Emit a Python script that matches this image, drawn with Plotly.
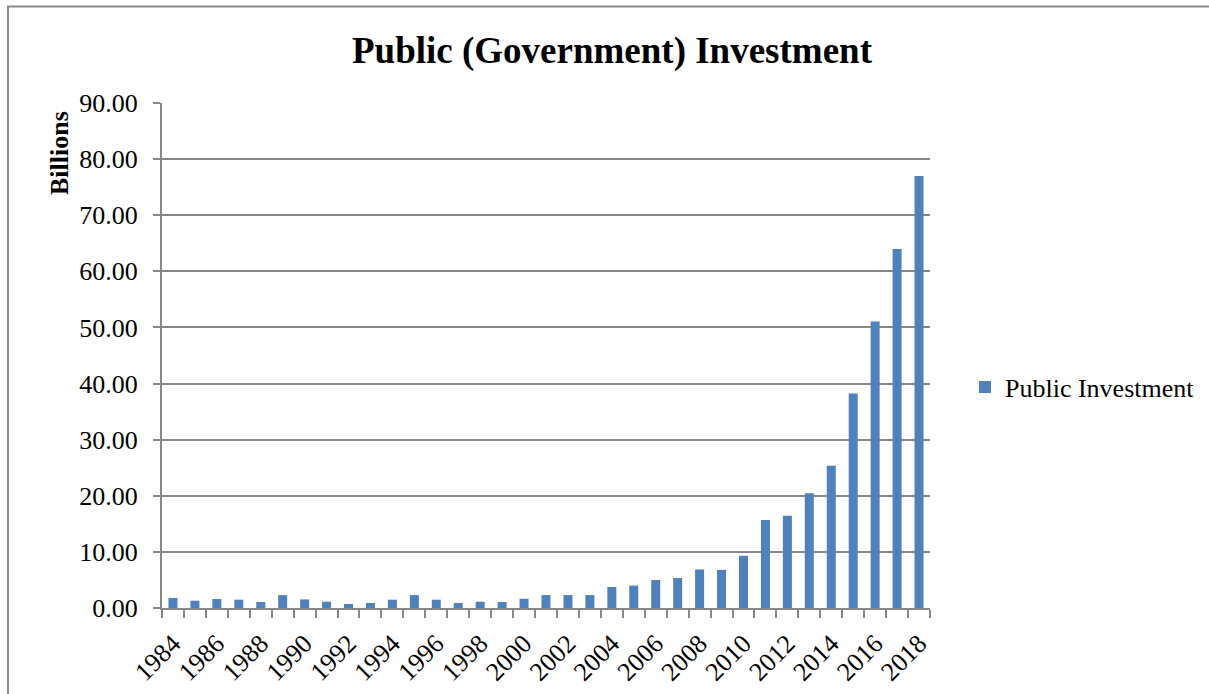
import plotly.graph_objects as go

# Public (government) investment, billions, 1984-2018
years = list(range(1984, 2019))
investment = [
    1.78, 1.30, 1.60, 1.48, 1.07, 2.30, 1.53, 1.12, 0.71, 0.89,
    1.48, 2.30, 1.48, 0.89, 1.12, 1.07, 1.65, 2.30, 2.30, 2.30,
    3.74, 4.00, 4.98, 5.34, 6.87, 6.80, 9.30, 15.70, 16.46, 20.44,
    25.35, 38.22, 51.08, 64.00, 76.98,
]
label_years = [y for y in years if y % 2 == 0]
series_name = "Public Investment"
chart_title = "Public (Government) Investment"
y_title = "Billions"

W, H = 1209, 694
L, R, T, B = 162, 279, 103, 86
plot_w = W - L - R
plot_h = H - T - B

FONT = "Liberation Serif, Times New Roman, serif"
GRID = "#878787"
BAR = "#4F81BD"


def px_x(px):
    return (px - L) / plot_w


def px_y(py):
    return (H - B - py) / plot_h


fig = go.Figure(
    go.Bar(
        x=years,
        y=investment,
        name=series_name,
        marker=dict(color=BAR, line=dict(width=0)),
        showlegend=True,
    )
)

fig.update_layout(
    width=W,
    height=H,
    margin=dict(l=L, r=R, t=T, b=B, autoexpand=False),
    paper_bgcolor="white",
    plot_bgcolor="white",
    bargap=0.59,
    font=dict(family=FONT, size=26, color="black"),
    title=dict(
        text=f"<b>{chart_title}</b>",
        x=612 / W,
        xref="container",
        xanchor="center",
        y=1 - 50 / H,
        yref="container",
        yanchor="middle",
        font=dict(family=FONT, size=37, color="black"),
    ),
    showlegend=True,
    legend=dict(
        x=px_x(965),
        xanchor="left",
        y=px_y(387),
        yanchor="middle",
        font=dict(family=FONT, size=26, color="black"),
        bgcolor="rgba(0,0,0,0)",
        itemwidth=30,
    ),
)

fig.update_xaxes(
    range=[years[0] - 0.5, years[-1] + 0.5],
    tickmode="array",
    tickvals=label_years,
    ticktext=[str(y) for y in label_years],
    ticks="",
    tickangle=-45,
    ticklabelstandoff=8,
    tickfont=dict(family=FONT, size=26, color="black"),
    showgrid=False,
    showline=True,
    linecolor=GRID,
    linewidth=2,
    zeroline=False,
    minor=dict(
        tickmode="array",
        tickvals=[y - 0.5 for y in years] + [years[-1] + 0.5],
        ticks="outside",
        ticklen=8,
        tickwidth=2,
        tickcolor=GRID,
        showgrid=False,
    ),
)

fig.update_yaxes(
    range=[0, 90],
    dtick=10,
    tick0=0,
    tickformat=".2f",
    ticks="outside",
    ticklen=7,
    tickwidth=2,
    tickcolor=GRID,
    ticklabelstandoff=10,
    tickfont=dict(family=FONT, size=26, color="black"),
    showgrid=True,
    gridcolor=GRID,
    gridwidth=2,
    showline=True,
    linecolor=GRID,
    linewidth=2,
    zeroline=False,
)

# y-axis title
fig.add_annotation(
    text=f"<b>{y_title}</b>",
    textangle=-90,
    xref="paper",
    yref="paper",
    x=px_x(59),
    y=px_y(153),
    xanchor="center",
    yanchor="middle",
    showarrow=False,
    font=dict(family=FONT, size=26, color="black"),
)

# frame around the chart (left and top edges)
fig.add_shape(
    type="path",
    xref="paper",
    yref="paper",
    path=f"M {px_x(8)},{px_y(H + 10)} L {px_x(8)},{px_y(6.5)} L {px_x(W + 10)},{px_y(6.5)}",
    line=dict(color="#8a8a8a", width=2),
    layer="above",
)

fig.write_html("out.html")
